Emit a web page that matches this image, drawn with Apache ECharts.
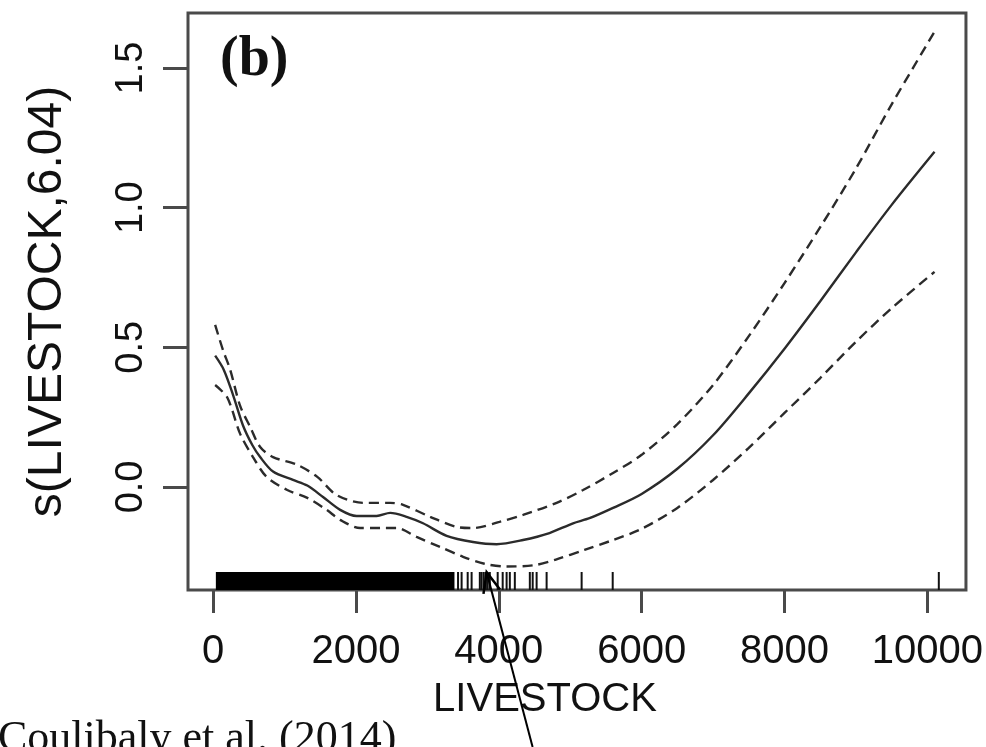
<!DOCTYPE html>
<html lang="en">
<head>
    <meta charset="UTF-8">
    <title>s(LIVESTOCK,6.04)</title>
    <style>
        html, body { margin: 0; padding: 0; background: #fff; }
        #box { width: 986px; height: 747px; }
    </style>
</head>
<body>
    <div id="box"></div>
    <script src="https://cdn.jsdelivr.net/npm/echarts@6/dist/echarts.min.js"></script>
    <script>
        // fitted smooth and its confidence band
        var fitData = [
            [30, 0.47], [150, 0.42], [280, 0.33], [420, 0.22], [550, 0.15], [660, 0.107],
            [840, 0.055], [1120, 0.025], [1320, 0.005], [1540, -0.036], [1780, -0.082],
            [2010, -0.104], [2290, -0.104], [2480, -0.093], [2710, -0.107], [2940, -0.13],
            [3270, -0.175], [3640, -0.197], [3970, -0.205], [4340, -0.19], [4710, -0.165],
            [5040, -0.13], [5270, -0.112], [5600, -0.075], [6000, -0.025], [6500, 0.065],
            [7000, 0.185], [7500, 0.335], [8000, 0.495], [8500, 0.665], [9000, 0.84],
            [9500, 1.01], [10100, 1.2]
        ];
        var upperData = [
            [30, 0.58], [140, 0.49], [240, 0.42], [380, 0.29], [520, 0.215], [660, 0.143],
            [840, 0.107], [1180, 0.079], [1460, 0.036], [1730, -0.029], [2100, -0.057],
            [2480, -0.057], [2660, -0.064], [3040, -0.107], [3410, -0.143], [3640, -0.147],
            [4010, -0.125], [4340, -0.10], [4810, -0.057], [5180, -0.011], [5600, 0.05],
            [6000, 0.115], [6500, 0.225], [7000, 0.365], [7500, 0.54], [8000, 0.73],
            [8500, 0.93], [9000, 1.14], [9500, 1.37], [10100, 1.63]
        ];
        var lowerData = [
            [30, 0.365], [200, 0.32], [380, 0.19], [560, 0.107], [750, 0.036], [1040, -0.011],
            [1320, -0.039], [1590, -0.082], [1780, -0.118], [2060, -0.147], [2340, -0.147],
            [2570, -0.147], [2850, -0.179], [3180, -0.215], [3500, -0.25], [3800, -0.275],
            [4100, -0.285], [4500, -0.28], [4800, -0.26], [5200, -0.225], [5600, -0.19],
            [6000, -0.15], [6500, -0.075], [7000, 0.025], [7500, 0.14], [8000, 0.265],
            [8500, 0.39], [9000, 0.52], [9500, 0.64], [10100, 0.77]
        ];

        // rug: one solid run of observations, then single ones
        var rugRun = [[40, 3380]];
        var rugTicks = [3430, 3480, 3565, 3620, 3735, 3760, 3790, 3820, 3845, 3875,
            3985, 4055, 4110, 4155, 4225, 4435, 4475, 4530, 4670, 5160, 5595, 10160];

        var xTicks = [0, 2000, 4000, 6000, 8000, 10000];
        var yTicks = [0, 0.5, 1, 1.5];

        // arrow tip sits on the rug
        var arrowTip = [3830, -0.305];

        var chartDom = document.getElementById('box');
        var myChart = echarts.init(chartDom);
        var option;

        var ink = '#2b2b2b';
        var frame = '#4a4a4a';
        var sans = 'Liberation Sans, Arial, sans-serif';

        var lineStyle = { color: ink, width: 2.4 };
        var dashStyle = { color: ink, width: 2.4, type: [10, 6] };

        function rugItem(params, api) {
            var cs = params.coordSys;
            var bottom = cs.y + cs.height;
            var top = bottom - 18;
            if (params.seriesIndex === 3) {
                var a = api.coord([api.value(0), 0]);
                var b = api.coord([api.value(1), 0]);
                return {
                    type: 'rect',
                    shape: { x: a[0], y: top, width: b[0] - a[0], height: bottom - top },
                    style: { fill: '#000' }
                };
            }
            var p = api.coord([api.value(0), 0]);
            return {
                type: 'line',
                shape: { x1: p[0], y1: top, x2: p[0], y2: bottom },
                style: { stroke: '#111', lineWidth: 2 }
            };
        }

        option = {
            animation: false,
            backgroundColor: '#fff',
            grid: {
                left: 188, right: 20, top: 13, bottom: 157,
                show: true, borderColor: frame, borderWidth: 3, backgroundColor: 'transparent'
            },
            xAxis: {
                type: 'value',
                min: -350, max: 10540,
                name: 'LIVESTOCK',
                nameLocation: 'middle',
                nameGap: 90,
                nameTextStyle: { fontFamily: sans, fontSize: 40, color: '#111', padding: [0, 64, 0, 0] },
                splitLine: { show: false },
                axisLine: { show: false, onZero: false },
                axisTick: { show: true, inside: false, length: 23, customValues: xTicks,
                    lineStyle: { color: frame, width: 3 } },
                axisLabel: { customValues: xTicks, margin: 42, fontFamily: sans, fontSize: 40, color: '#111',
                    formatter: function (v) { return String(v); } }
            },
            yAxis: {
                type: 'value',
                min: -0.369, max: 1.697,
                name: 's(LIVESTOCK,6.04)',
                nameLocation: 'middle',
                nameGap: 116,
                nameTextStyle: { fontFamily: sans, fontSize: 48, color: '#111' },
                splitLine: { show: false },
                axisLine: { show: false, onZero: false },
                axisTick: { show: true, inside: false, length: 25, customValues: yTicks,
                    lineStyle: { color: frame, width: 3 } },
                axisLabel: { customValues: yTicks, rotate: 90, margin: 37, fontFamily: sans, fontSize: 38, color: '#111',
                    formatter: function (v) { return v.toFixed(1); } }
            },
            series: [
                { name: 'fit', type: 'line', data: fitData, smooth: 0.3, showSymbol: false, lineStyle: lineStyle, z: 3 },
                { name: 'upper', type: 'line', data: upperData, smooth: 0.3, showSymbol: false, lineStyle: dashStyle, z: 3 },
                { name: 'lower', type: 'line', data: lowerData, smooth: 0.3, showSymbol: false, lineStyle: dashStyle, z: 3 },
                { name: 'rugRun', type: 'custom', data: rugRun, renderItem: rugItem, z: 4 },
                { name: 'rugTicks', type: 'custom', data: rugTicks.map(function (v) { return [v]; }), renderItem: rugItem, z: 4 }
            ]
        };

        option && myChart.setOption(option);

        // panel letter, caption and arrow laid over the chart
        var tip = myChart.convertToPixel({ gridIndex: 0 }, arrowTip);
        var tail = [tip[0] + 46, 747];
        var ang = Math.atan2(tail[1] - tip[1], tail[0] - tip[0]);
        var head = 22, spread = 0.4;
        myChart.setOption({
            graphic: [
                { type: 'text', left: 220, top: 33, z: 10,
                  style: { text: '(b)', font: 'bold 56px "Liberation Serif", "Times New Roman", serif', fill: '#111' } },
                { type: 'text', left: -2, top: 717, z: 10,
                  style: { text: 'Coulibaly et al. (2014)', font: '44px "Liberation Serif", "Times New Roman", serif', fill: '#111' } },
                { type: 'line', z: 10, shape: { x1: tail[0], y1: tail[1], x2: tip[0], y2: tip[1] },
                  style: { stroke: '#000', lineWidth: 2 } },
                { type: 'polyline', z: 10, shape: { points: [
                    [tip[0] + head * Math.cos(ang - spread), tip[1] + head * Math.sin(ang - spread)],
                    tip,
                    [tip[0] + head * Math.cos(ang + spread), tip[1] + head * Math.sin(ang + spread)]
                ] }, style: { stroke: '#000', lineWidth: 2.5, fill: null } }
            ]
        });
    </script>
</body>
</html>
